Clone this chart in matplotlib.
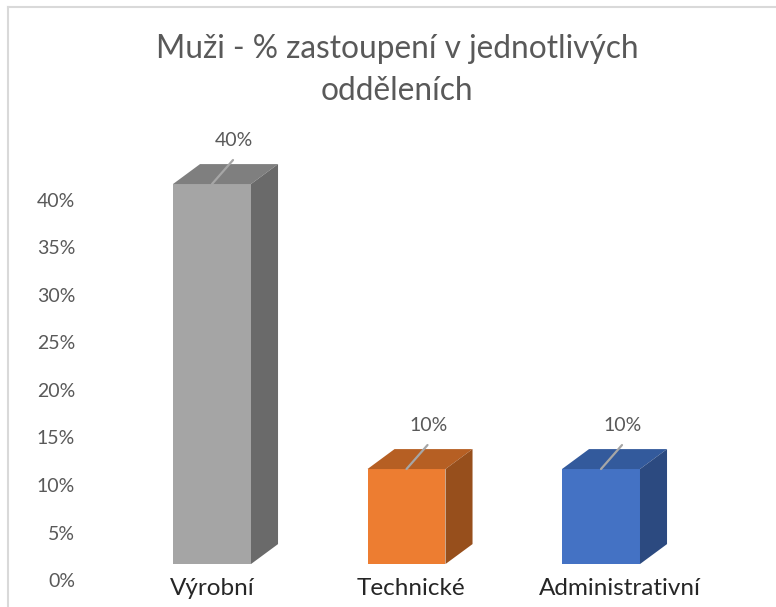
import matplotlib
matplotlib.use("Agg")
import matplotlib.pyplot as plt
from matplotlib.patches import Polygon
from matplotlib.lines import Line2D

# ---- data ----
categories = ["Výrobní", "Technické", "Administrativní"]
values = [40, 10, 10]
value_labels = ["40%", "10%", "10%"]
yticks = [0, 5, 10, 15, 20, 25, 30, 35, 40]
ytick_labels = ["0%", "5%", "10%", "15%", "20%", "25%", "30%", "35%", "40%"]
title_lines = ["Muži - % zastoupení v jednotlivých", "odděleních"]

front_colors = ["#A5A5A5", "#ED7D31", "#4472C4"]
top_colors = ["#7F7F7F", "#B65F23", "#335A9C"]
side_colors = ["#6A6A6A", "#974F1C", "#2C4A80"]

# ---- style constants ----
W, H, DPI = 7.76, 6.07, 100
FONT = ["Lato", "DejaVu Sans"]
BASE = 1.68          # front face floor offset (3D look)
DX, DY = 0.139, 2.1  # depth of 3D bars in data units
BAR_W = 0.401
LABEL_SHIFT = [0.0, 0.022, 0.095]  # perspective shift of category labels

plt.rcParams["font.family"] = FONT
fig = plt.figure(figsize=(W, H), dpi=DPI)
fig.patch.set_facecolor("white")

# axes: pixel x 80..740, pixel y (from top) 105..580
ax = fig.add_axes([80 / 776, 27 / 607, 660 / 776, 475 / 607])
ax.set_xlim((80 - 212) / 194.5, (740 - 212) / 194.5)
ax.set_ylim(0, 50)
for s in ax.spines.values():
    s.set_visible(False)
ax.set_facecolor("none")

ax.set_yticks(yticks)
ax.set_yticklabels(ytick_labels)
ax.tick_params(axis="y", length=0, pad=3.6, labelsize=14, labelcolor="#595959")
ax.set_xticks([])

xs = list(range(len(categories)))
ax.bar(xs, values, width=BAR_W, bottom=BASE, color=front_colors, zorder=3)

for i, (x, v) in enumerate(zip(xs, values)):
    l, r = x - BAR_W / 2, x + BAR_W / 2
    top = BASE + v
    ax.add_patch(Polygon([(l, top), (r, top), (r + DX, top + DY), (l + DX, top + DY)],
                         closed=True, facecolor=top_colors[i], edgecolor="none", zorder=3))
    ax.add_patch(Polygon([(r, BASE), (r + DX, BASE + DY), (r + DX, top + DY), (r, top)],
                         closed=True, facecolor=side_colors[i], edgecolor="none", zorder=3))
    # leader line and data label
    ax.annotate("", xy=(x, top), xytext=(21, 24), textcoords="offset pixels",
                arrowprops=dict(arrowstyle="-", color="#A6A6A6", lw=1.6,
                                shrinkA=0, shrinkB=0), zorder=4)
    ax.annotate(value_labels[i], xy=(x, top), xytext=(22, 44), textcoords="offset pixels",
                ha="center", va="center", fontsize=14, color="#595959", zorder=5)
    # category label
    ax.text(x + LABEL_SHIFT[i], -1.58, categories[i], ha="center", va="baseline",
            fontsize=17.5, color="#262626", clip_on=False)

for k, (line, base_px) in enumerate(zip(title_lines, [58, 100])):
    fig.text(397 / 776, 1 - base_px / 607, line, ha="center", va="baseline",
             fontsize=22.8, color="#595959")

# chart border (partial, as in the screenshot)
fig.add_artist(Line2D([8 / 776, 1], [1 - 7 / 607, 1 - 7 / 607], transform=fig.transFigure,
                      color="#D9D9D9", lw=1.5))
fig.add_artist(Line2D([8 / 776, 8 / 776], [0, 1 - 7 / 607], transform=fig.transFigure,
                      color="#D9D9D9", lw=1.5))

fig.savefig("out.png", dpi=DPI, facecolor="white")
